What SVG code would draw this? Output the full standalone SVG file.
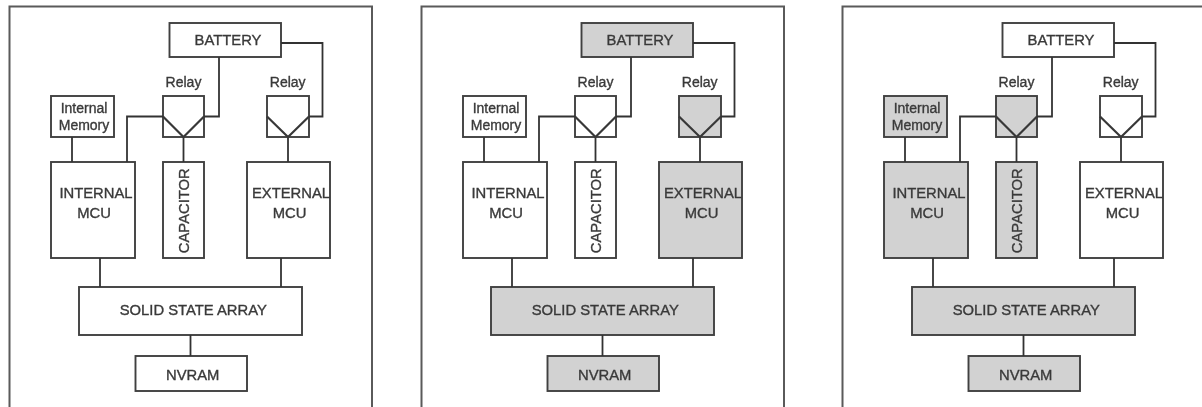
<svg xmlns="http://www.w3.org/2000/svg" width="1202" height="407" viewBox="0 0 1202 407">
<defs>
<filter id="soft" x="-2%" y="-2%" width="104%" height="104%"><feGaussianBlur stdDeviation="0.5"/></filter>
</defs>
<style>
.box{fill:#fff;stroke:#404040;stroke-width:1.9}
.on{fill:#d2d2d2}
.frame{fill:#fff;stroke:#5a5a5a;stroke-width:2}
.wire{fill:none;stroke:#333;stroke-width:1.8;stroke-linejoin:miter}
.y{fill:none;stroke:#383838;stroke-width:2.2}
text{font-family:"Liberation Sans",Arial,sans-serif;fill:#3a3a3a;stroke:#3a3a3a;stroke-width:.35;text-anchor:middle;font-size:14.8px}
.s{font-size:14px}
</style>
<rect width="1202" height="407" fill="#fff"/>
<g filter="url(#soft)">

<g id="panel-1">
<path class="frame" d="M9.5 407V6.5H372V407"/>
<g id="p1-battery"><rect class="box" x="169.5" y="23" width="111.5" height="34"/><text x="228" y="45">BATTERY</text></g>
<g id="p1-relay-a"><rect class="box" x="163" y="96" width="41" height="41"/><text class="s" x="183.5" y="87">Relay</text></g>
<g id="p1-relay-b"><rect class="box" x="267" y="96" width="42" height="41"/><text class="s" x="287.7" y="87">Relay</text></g>
<g id="p1-memory"><rect class="box" x="51" y="96" width="63" height="41"/><text class="s" x="84" y="113">Internal</text><text class="s" x="84" y="129.5">Memory</text></g>
<g id="p1-internal"><rect class="box" x="51" y="162" width="84" height="96"/><text x="96" y="197.5">INTERNAL</text><text x="94" y="218">MCU</text></g>
<g id="p1-capacitor"><rect class="box" x="163" y="162" width="41" height="96"/><text transform="translate(189 210.7) rotate(-90)">CAPACITOR</text></g>
<g id="p1-external"><rect class="box" x="247" y="162" width="83" height="96"/><text x="291" y="197.5">EXTERNAL</text><text x="289.5" y="218">MCU</text></g>
<g id="p1-ssa"><rect class="box" x="79" y="287" width="223" height="48"/><text x="193.3" y="315">SOLID STATE ARRAY</text></g>
<g id="p1-nvram"><rect class="box" x="135.5" y="356" width="111.5" height="35"/><text x="192.7" y="380">NVRAM</text></g>
<g id="p1-connectors">
<path class="wire" d="M219 57V116.5H204M281 43H322.5V116.5H309M127 162V116.5H163M72 137V162M183.5 137V162M288 137V162M100 258V287M281 258V287M190.5 335V356"/>
<path class="y" d="M163 116.5L183.5 137L204 116.5M267 116.5L288 137L309 116.5"/>
</g>
</g>

<g id="panel-2" transform="translate(412 0)">
<path class="frame" d="M9.5 407V6.5H372V407"/>
<g id="p2-battery"><rect class="box on" x="169.5" y="23" width="111.5" height="34"/><text x="228" y="45">BATTERY</text></g>
<g id="p2-relay-a"><rect class="box" x="163" y="96" width="41" height="41"/><text class="s" x="183.5" y="87">Relay</text></g>
<g id="p2-relay-b"><rect class="box on" x="267" y="96" width="42" height="41"/><text class="s" x="287.7" y="87">Relay</text></g>
<g id="p2-memory"><rect class="box" x="51" y="96" width="63" height="41"/><text class="s" x="84" y="113">Internal</text><text class="s" x="84" y="129.5">Memory</text></g>
<g id="p2-internal"><rect class="box" x="51" y="162" width="84" height="96"/><text x="96" y="197.5">INTERNAL</text><text x="94" y="218">MCU</text></g>
<g id="p2-capacitor"><rect class="box" x="163" y="162" width="41" height="96"/><text transform="translate(189 210.7) rotate(-90)">CAPACITOR</text></g>
<g id="p2-external"><rect class="box on" x="247" y="162" width="83" height="96"/><text x="291" y="197.5">EXTERNAL</text><text x="289.5" y="218">MCU</text></g>
<g id="p2-ssa"><rect class="box on" x="79" y="287" width="223" height="48"/><text x="193.3" y="315">SOLID STATE ARRAY</text></g>
<g id="p2-nvram"><rect class="box on" x="135.5" y="356" width="111.5" height="35"/><text x="192.7" y="380">NVRAM</text></g>
<g id="p2-connectors">
<path class="wire" d="M219 57V116.5H204M281 43H322.5V116.5H309M127 162V116.5H163M72 137V162M183.5 137V162M288 137V162M100 258V287M281 258V287M190.5 335V356"/>
<path class="y" d="M163 116.5L183.5 137L204 116.5M267 116.5L288 137L309 116.5"/>
</g>
</g>

<g id="panel-3" transform="translate(833 0)">
<path class="frame" d="M9.5 407V6.5H372V407"/>
<g id="p3-battery"><rect class="box" x="169.5" y="23" width="111.5" height="34"/><text x="228" y="45">BATTERY</text></g>
<g id="p3-relay-a"><rect class="box on" x="163" y="96" width="41" height="41"/><text class="s" x="183.5" y="87">Relay</text></g>
<g id="p3-relay-b"><rect class="box" x="267" y="96" width="42" height="41"/><text class="s" x="287.7" y="87">Relay</text></g>
<g id="p3-memory"><rect class="box on" x="51" y="96" width="63" height="41"/><text class="s" x="84" y="113">Internal</text><text class="s" x="84" y="129.5">Memory</text></g>
<g id="p3-internal"><rect class="box on" x="51" y="162" width="84" height="96"/><text x="96" y="197.5">INTERNAL</text><text x="94" y="218">MCU</text></g>
<g id="p3-capacitor"><rect class="box on" x="163" y="162" width="41" height="96"/><text transform="translate(189 210.7) rotate(-90)">CAPACITOR</text></g>
<g id="p3-external"><rect class="box" x="247" y="162" width="83" height="96"/><text x="291" y="197.5">EXTERNAL</text><text x="289.5" y="218">MCU</text></g>
<g id="p3-ssa"><rect class="box on" x="79" y="287" width="223" height="48"/><text x="193.3" y="315">SOLID STATE ARRAY</text></g>
<g id="p3-nvram"><rect class="box on" x="135.5" y="356" width="111.5" height="35"/><text x="192.7" y="380">NVRAM</text></g>
<g id="p3-connectors">
<path class="wire" d="M219 57V116.5H204M281 43H322.5V116.5H309M127 162V116.5H163M72 137V162M183.5 137V162M288 137V162M100 258V287M281 258V287M190.5 335V356"/>
<path class="y" d="M163 116.5L183.5 137L204 116.5M267 116.5L288 137L309 116.5"/>
</g>
</g>
</g>
</svg>
